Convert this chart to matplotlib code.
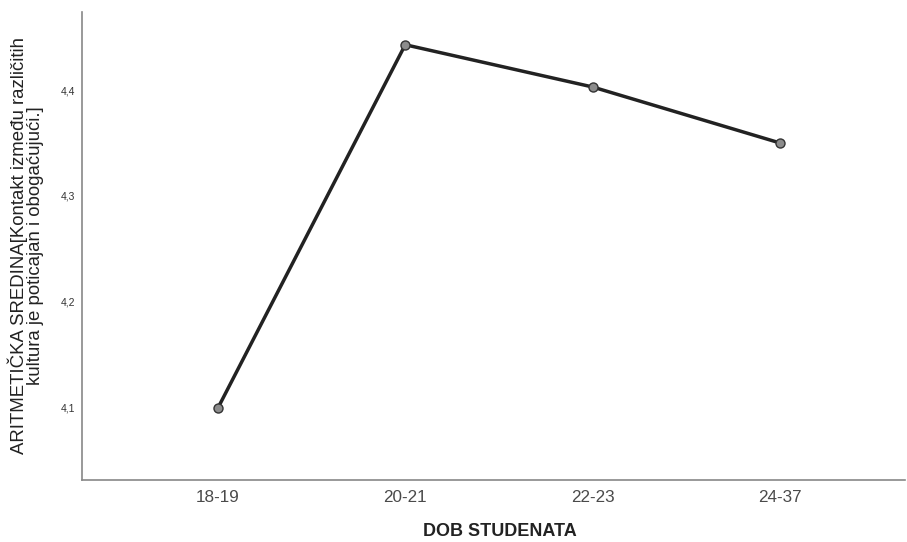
import matplotlib.pyplot as plt

plt.rcParams['font.family'] = ['Liberation Sans', 'DejaVu Sans']

# ---- Data ----
age_groups = ['18-19', '20-21', '22-23', '24-37']
mean_scores = [4.099, 4.443, 4.403, 4.350]
y_ticks = [4.1, 4.2, 4.3, 4.4]
y_tick_labels = ['4,1', '4,2', '4,3', '4,4']

fig = plt.figure(figsize=(9.07, 5.42), dpi=100)
ax = fig.add_axes([0.0904, 0.1144, 0.9074, 0.8635])

positions = list(range(len(age_groups)))
ax.plot(positions, mean_scores, color='#222222', linewidth=2.5,
        marker='o', markersize=6.5, markerfacecolor='#8c8c8c',
        markeredgecolor='#333333', markeredgewidth=1.0, zorder=3)

ax.set_xlim(-0.725, 3.667)
ax.set_ylim(4.031, 4.474)

ax.set_xticks(positions)
ax.set_xticklabels(age_groups, fontsize=12.3, color='#4a4a4a')
ax.set_yticks(y_ticks)
ax.set_yticklabels(y_tick_labels, fontsize=7.5, color='#333333')
ax.tick_params(axis='both', length=0)
ax.tick_params(axis='x', pad=7)
ax.tick_params(axis='y', pad=5)

for side in ['top', 'right']:
    ax.spines[side].set_visible(False)
for side in ['left', 'bottom']:
    ax.spines[side].set_color('#888888')
    ax.spines[side].set_linewidth(1.2)

ax.set_xlabel('DOB STUDENATA', fontsize=13, fontweight='bold', color='#222222')
ax.xaxis.set_label_coords(0.508, -0.092)
ax.set_ylabel('ARITMETIČKA SREDINA[Kontakt između različitih\n'
              'kultura je poticajan i obogaćujući.]',
              fontsize=13.4, color='#222222', linespacing=0.95)
ax.yaxis.set_label_coords(-0.046, 0.5)

fig.savefig('out.png', dpi=100)
